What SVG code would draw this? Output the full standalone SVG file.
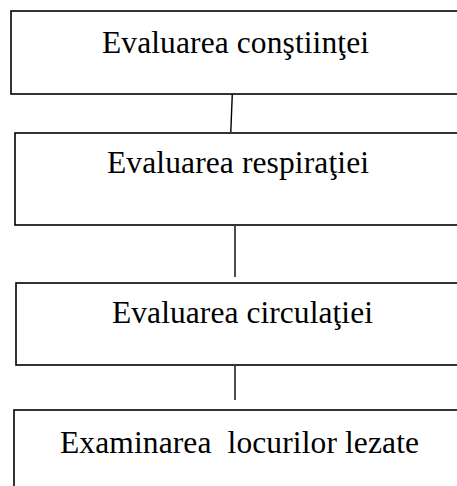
<svg xmlns="http://www.w3.org/2000/svg" width="457" height="486" viewBox="0 0 457 486">
<style>
.box{fill:#fff;stroke:#000;stroke-width:1.6}
.lbl{font-family:"Liberation Serif","Times New Roman",serif;font-size:31.5px;fill:#000;white-space:pre}
.conn{stroke:#000;stroke-width:1.4;fill:none}
</style>
<rect width="457" height="486" fill="#fff"/>
<g id="node1"><rect class="box" x="11" y="11" width="460" height="83"/><text class="lbl" x="102" y="53.3" textLength="267">Evaluarea conştiinţei</text></g>
<g id="node2"><rect class="box" x="15" y="133" width="460" height="92"/><text class="lbl" x="107" y="173" textLength="262">Evaluarea respiraţiei</text></g>
<g id="node3"><rect class="box" x="16" y="283" width="460" height="82"/><text class="lbl" x="112" y="323" textLength="261">Evaluarea circulaţiei</text></g>
<g id="node4"><rect class="box" x="14" y="410" width="460" height="90"/><text class="lbl" x="60" y="452.7" textLength="359" xml:space="preserve">Examinarea  locurilor lezate</text></g>
<g id="connectors">
<line class="conn" x1="232.3" y1="94" x2="230.8" y2="132"/>
<line class="conn" x1="235" y1="226" x2="235" y2="277"/>
<line class="conn" x1="235" y1="366" x2="235" y2="400"/>
</g>
</svg>
